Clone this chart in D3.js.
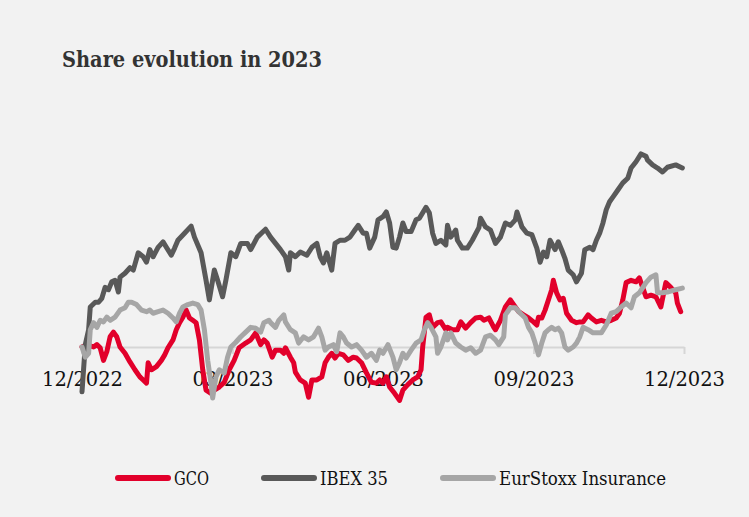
<!DOCTYPE html>
<html>
<head>
<meta charset="utf-8">
<script src="https://cdn.jsdelivr.net/npm/d3@7"></script>
<style>
  html, body { margin: 0; padding: 0; background: #f2f2f2; }
  svg { display: block; }
  text { font-family: "DejaVu Serif Condensed", "DejaVu Serif", serif; font-stretch: condensed; }
</style>
</head>
<body>
<svg width="749" height="517"></svg>
<script>
//  Series are [days since 30/12/2022, % change]
const seriesNames = ['GCO', 'IBEX 35', 'EurStoxx Insurance'];
const seriesColors = ['#e2002b', '#595959', '#a6a6a6'];
const tickDays = [0, 91, 182, 273, 364];

const gco = [
  [0,0],[3,0.3],[7,0],[9,0.3],[11,-0.1],[13,-1.7],[15,-0.6],[17,1.3],[19,1.9],[21,1.3],
  [23,0],[26,-0.8],[29,-1.9],[32,-2.9],[35,-3.8],[37,-4.2],[39,-4.6],[40,-2.0],[42,-2.9],[45,-2.5],
  [48,-1.7],[50,-1.0],[52,-0.1],[55,0.9],[57,2.2],[59,3.1],[61,3.8],[63,4.7],[65,3.7],[67,3.4],
  [69,3.1],[71,0.9],[73,-2.9],[75,-5.5],[78,-5.9],[80,-5.5],[83,-5.1],[86,-4.5],[89,-2.9],[92,-1.7],
  [95,-0.1],[99,0.5],[102,0.9],[105,1.8],[108,0.3],[110,0.9],[112,0.5],[115,-1.3],[117,-0.4],[120,-0.4],
  [122,-0.8],[123,-0.1],[126,-1.3],[128,-2.0],[129,-3.2],[132,-4.2],[135,-4.6],[137,-6.4],[139,-4.2],[142,-4.2],
  [145,-3.8],[147,-2.0],[149,-1.3],[151,-0.8],[153,-1.4],[155,-0.8],[158,-1.0],[161,-1.7],[164,-1.3],[166,-1.4],
  [169,-2.0],[172,-3.3],[175,-4.5],[178,-4.6],[180,-4.2],[182,-4.6],[184,-3.8],[186,-5.1],[189,-5.9],[192,-6.8],
  [194,-5.5],[197,-4.8],[200,-4.2],[203,-3.8],[205,-2.9],[206,0],[208,3.8],[210,4.1],[212,2.5],[215,3.1],
  [217,3.2],[220,2.2],[221,2.5],[224,2.2],[227,2.2],[229,3.2],[232,2.4],[235,3.1],[238,3.7],[241,3.8],
  [243,3.4],[246,3.7],[249,2.5],[250,2.2],[253,3.4],[256,5.1],[259,6.0],[261,5.4],[264,4.5],[267,4.1],
  [270,3.7],[273,3.2],[275,2.8],[276,3.8],[278,3.7],[280,4.7],[282,6.0],[284,7.3],[285,8.5],[287,6.9],
  [289,6.0],[291,6.2],[293,4.3],[296,3.4],[299,3.1],[301,3.2],[303,3.2],[306,4.1],[308,3.7],[311,3.2],
  [314,3.4],[317,3.2],[320,3.4],[323,3.7],[325,4.3],[327,6.0],[329,8.2],[332,8.5],[335,8.3],[337,8.8],
  [339,7.6],[341,6.4],[344,6.6],[347,6.4],[350,5.1],[353,8.2],[356,7.6],[359,6.9],[360,5.6],[362,4.5]
];

const ibex = [
  [0,-5.7],[2,0.3],[4,2.2],[5,5.1],[8,5.7],[10,5.7],[12,6.2],[14,7.6],[16,7.3],[18,8.3],
  [20,8.5],[22,7.0],[23,8.9],[26,9.4],[29,10.1],[31,9.8],[34,12.0],[37,11.5],[39,10.8],[41,12.4],
  [43,11.5],[46,12.7],[49,13.4],[51,12.7],[54,11.7],[56,12.6],[58,13.6],[62,14.5],[66,15.4],[68,14.0],
  [72,12.0],[75,8.5],[77,6.0],[80,9.8],[82,8.5],[85,6.4],[87,8.5],[90,12.0],[93,11.5],[96,13.2],
  [100,13.2],[102,12.4],[106,14.0],[111,15.0],[114,14.0],[117,13.2],[120,12.4],[123,11.5],[125,9.8],[126,12.0],
  [129,11.5],[132,12.1],[136,11.7],[139,12.7],[142,13.2],[144,11.5],[146,10.7],[148,12.0],[151,9.8],[153,13.2],
  [156,13.6],[159,13.6],[162,14.0],[165,14.9],[167,15.5],[170,14.5],[172,14.5],[174,12.6],[177,14.0],[179,16.2],
  [182,16.6],[184,17.2],[186,15.8],[188,12.7],[190,12.6],[192,14.0],[194,15.8],[196,14.7],[199,14.7],[202,16.2],
  [204,16.4],[206,17.1],[208,17.8],[210,17.1],[212,14.5],[214,13.2],[217,13.6],[220,13.0],[221,15.5],[223,14.0],
  [226,14.9],[227,13.6],[230,12.6],[233,12.6],[236,13.6],[240,15.2],[241,16.4],[244,15.3],[247,14.9],[250,13.2],
  [253,14.0],[256,15.8],[259,15.5],[262,16.2],[263,17.2],[266,15.3],[269,14.5],[272,14.3],[275,12.6],[277,10.8],
  [279,12.1],[281,11.5],[283,13.6],[286,12.4],[288,13.4],[290,12.4],[292,11.3],[294,9.8],[297,9.2],[299,8.3],
  [302,9.4],[304,12.4],[307,12.7],[309,12.4],[311,13.6],[313,14.5],[315,15.8],[317,17.5],[319,18.5],[321,19.1],
  [324,20.0],[327,20.9],[330,21.5],[332,22.8],[335,23.6],[338,24.6],[341,24.3],[342,23.8],[345,23.2],[348,22.8],
  [351,22.3],[354,22.9],[359,23.2],[362,22.9],[363,22.8]
];

const eurstoxx = [
  [0,0],[2,-1.3],[4,-0.8],[5,2.2],[7,3.1],[9,2.5],[11,3.4],[13,3.2],[15,3.8],[17,3.4],
  [20,3.8],[23,4.7],[26,5.0],[28,5.7],[30,5.7],[33,5.4],[36,4.7],[39,4.5],[41,4.7],[43,4.3],
  [46,4.5],[49,4.7],[52,4.3],[55,3.7],[57,3.2],[59,4.3],[61,5.1],[64,5.4],[67,5.6],[70,5.4],
  [72,4.7],[74,2.2],[76,-1.7],[78,-4.6],[79,-6.5],[81,-3.8],[83,-2.9],[86,-3.3],[88,-1.3],[90,0],
  [93,0.6],[96,1.3],[99,1.9],[102,2.5],[105,2.4],[108,1.9],[110,3.1],[113,3.4],[114,3.1],[117,2.5],
  [119,3.4],[122,4.1],[123,3.2],[126,2.2],[129,1.8],[131,0.5],[134,1.3],[137,0.9],[140,1.3],[143,2.4],
  [145,1.3],[147,-0.4],[149,0],[152,0.3],[154,-0.6],[156,1.8],[158,1.3],[160,0.5],[163,0],[166,0.3],
  [169,-0.4],[172,-1.3],[175,-0.8],[178,-1.7],[180,-0.4],[182,-0.8],[185,0.3],[188,-1.3],[190,-2.9],[192,-2.0],
  [194,-0.8],[196,-1.4],[199,-0.4],[202,0.5],[205,0.9],[207,2.2],[209,3.1],[211,2.5],[214,1.3],[215,-0.8],
  [217,0],[220,1.8],[221,0.9],[223,1.8],[226,0.5],[229,0],[232,-0.4],[235,-0.1],[238,-0.8],[241,-0.4],
  [244,1.3],[247,1.5],[250,0.9],[252,0.3],[255,1.3],[256,4.1],[259,5.0],[262,5.0],[265,4.3],[268,3.7],
  [270,2.5],[272,1.8],[274,0.5],[276,-1.0],[278,0.5],[280,1.8],[282,2.2],[284,2.5],[286,2.2],[288,2.4],
  [290,1.8],[292,0],[294,-0.4],[297,0],[299,0.5],[301,1.3],[303,2.5],[306,2.2],[309,1.8],[311,1.8],
  [314,1.8],[317,2.8],[320,4.3],[323,4.5],[326,5.1],[329,5.6],[332,5.0],[334,6.4],[337,6.9],[341,8.2],
  [344,8.9],[347,9.2],[348,6.9],[351,6.9],[354,7.0],[359,7.3],[363,7.5]
];

const startDate = new Date(2022, 11, 30);
const toDate = d => d3.timeDay.offset(startDate, d);

const svg = d3.select('svg');

//  Background panel
svg.append('rect')
    .attr('width', 749)
    .attr('height', 517)
    .attr('fill', '#f2f2f2');

//  Title
svg.append('text')
    .attr('x', 62)
    .attr('y', 67)
    .attr('fill', '#333333')
    .attr('font-size', 23)
    .attr('font-weight', 'bold')
    .attr('textLength', 260)
    .attr('lengthAdjust', 'spacingAndGlyphs')
    .text('Share evolution in 2023');

//  Scales
const x = d3.scaleTime()
    .domain([toDate(0), toDate(364)])
    .range([82, 684]);

const pxPerPct = 7.85;
const y = d3.scaleLinear()
    .domain([0, 10])
    .range([347, 347 - 10 * pxPerPct]);

//  Axis (baseline + quarter ticks)
const axis = svg.append('g')
    .attr('transform', `translate(0,${y(0)})`)
    .call(d3.axisBottom(x)
        .tickValues(tickDays.map(toDate))
        .tickFormat(d3.timeFormat('%m/%Y'))
        .tickSize(7)
        .tickSizeOuter(0)
        .tickPadding(17));

axis.select('.domain')
    .attr('stroke', '#d6d6d6')
    .attr('stroke-width', 2);
axis.selectAll('.tick line')
    .attr('stroke', '#d6d6d6')
    .attr('stroke-width', 2);
axis.selectAll('.tick text')
    .attr('fill', '#111111')
    .attr('font-size', 20.5)
    .attr('font-family', '"DejaVu Serif Condensed", "DejaVu Serif", serif')
    .attr('textLength', 81)
    .attr('lengthAdjust', 'spacingAndGlyphs');

//  Lines
const line = d3.line()
    .x(d => x(toDate(d[0])))
    .y(d => y(d[1]));

const allSeries = [gco, ibex, eurstoxx];
const lines = svg.append('g').attr('id', 'lines');

allSeries.forEach((s, i) => {
    lines.append('path')
        .datum(s)
        .attr('d', line)
        .attr('fill', 'none')
        .attr('stroke', seriesColors[i])
        .attr('stroke-width', 5)
        .attr('stroke-linejoin', 'round')
        .attr('stroke-linecap', 'round');
});

//  Legend
const legend = svg.append('g').attr('id', 'legend');
const legendWidths = [35, 68, 167];
let lx = 115;
seriesNames.forEach((name, i) => {
    legend.append('line')
        .attr('x1', lx + 3)
        .attr('x2', lx + 53)
        .attr('y1', 478)
        .attr('y2', 478)
        .attr('stroke', seriesColors[i])
        .attr('stroke-width', 6)
        .attr('stroke-linecap', 'round');
    legend.append('text')
        .attr('x', lx + 59)
        .attr('y', 485)
        .attr('fill', '#111111')
        .attr('font-size', 19)
        .attr('textLength', legendWidths[i])
        .attr('lengthAdjust', 'spacingAndGlyphs')
        .text(name);
    lx += 59 + legendWidths[i] + 52;
});
</script>
</body>
</html>
